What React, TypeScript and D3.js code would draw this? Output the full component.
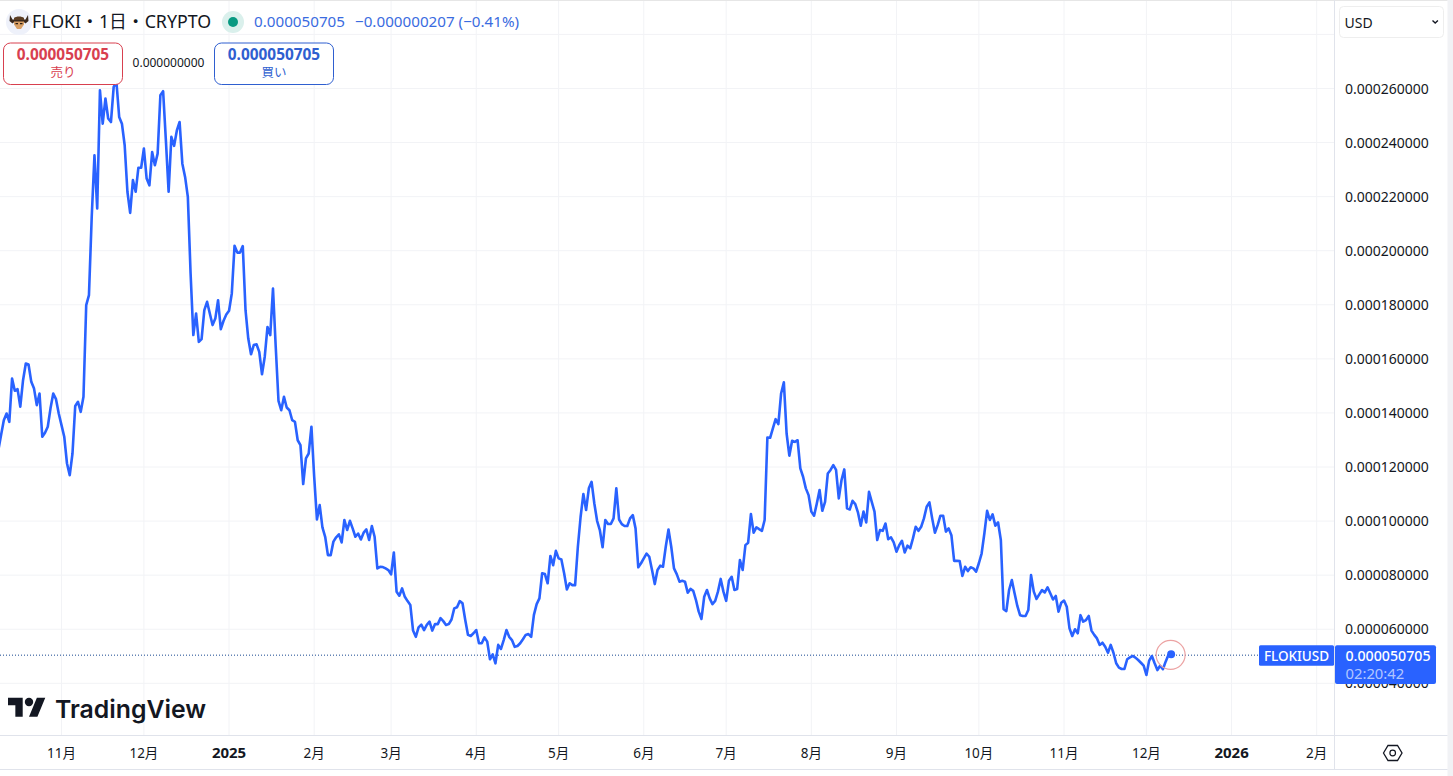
import React from "react";
import * as d3 from "d3";

// daily closes in millionths of a USD, one array per month
const oct2024 = [126.2, 131.8, 137.3, 139.8, 136.7, 152.7, 148.2, 148.8, 142.3, 152.1, 158.3, 157.9, 151.5, 149.0, 142.9, 147.2, 131.2, 132.7, 134.9, 141.7, 147.2, 145.1, 139.8];
const nov2024 = [135.5, 131.2, 121.3, 117.0, 125.0, 142.6, 144.1, 140.4, 146.0, 179.9, 183.6, 212.5, 235.3, 215.6, 259.3, 247.0, 256.3, 248.9, 247.6, 260.6, 262.4, 249.5, 247.0, 239.0, 221.8, 214.0, 226.1, 221.8, 230.7, 230.7];
const dec2024 = [237.8, 226.7, 224.2, 236.5, 231.6, 235.9, 257.5, 259.0, 240.9, 221.8, 242.1, 238.8, 244.5, 247.6, 232.2, 227.3, 219.9, 191.6, 168.8, 176.8, 166.3, 167.3, 178.0, 181.1, 176.8, 172.5, 174.9, 181.7, 171.0, 174.1, 176.4];
const jan2025 = [177.8, 184.2, 201.8, 199.3, 199.3, 201.7, 178.0, 167.5, 161.7, 165.1, 165.4, 162.6, 154.3, 160.8, 171.8, 168.8, 186.0, 164.4, 144.5, 141.0, 146.0, 142.0, 141.0, 137.3, 136.7, 129.9, 128.1, 113.7, 123.2, 125.0, 134.9];
const feb2025 = [116.4, 100.6, 105.9, 97.7, 94.2, 87.4, 87.4, 92.4, 94.0, 95.1, 92.1, 100.4, 96.7, 100.1, 97.3, 94.2, 95.4, 93.2, 95.7, 96.9, 93.0, 98.2, 94.2, 82.5, 83.1, 83.0, 82.5, 81.9];
const mar2025 = [80.3, 88.4, 73.9, 72.4, 75.1, 72.0, 70.4, 69.0, 59.5, 57.2, 60.7, 61.7, 59.7, 61.6, 62.8, 59.5, 61.9, 61.9, 64.1, 63.0, 61.6, 61.9, 63.6, 67.7, 68.1, 70.4, 69.6, 63.4, 57.9, 57.5, 58.5];
const apr2025 = [59.7, 54.8, 54.8, 57.0, 55.4, 48.9, 50.7, 47.4, 54.2, 52.7, 56.0, 59.7, 57.2, 56.0, 53.5, 53.8, 54.8, 56.3, 57.9, 58.2, 57.2, 65.3, 69.3, 71.4, 80.7, 80.4, 77.0, 87.1, 83.7, 89.0];
const may2025 = [86.2, 85.8, 80.7, 74.7, 77.0, 76.3, 76.3, 90.5, 101.6, 110.0, 104.1, 112.1, 114.5, 106.5, 100.1, 96.7, 90.3, 100.4, 98.9, 98.9, 101.0, 112.1, 100.6, 98.9, 98.2, 98.2, 101.0, 102.2, 97.3, 82.9, 84.4];
const jun2025 = [86.2, 88.0, 86.8, 81.9, 76.7, 81.9, 83.5, 83.1, 90.5, 96.9, 90.5, 82.5, 80.4, 77.6, 77.9, 77.6, 73.5, 74.9, 74.2, 70.8, 66.5, 63.8, 72.0, 74.5, 71.4, 69.3, 70.5, 73.9, 78.6, 73.9];
const jul2025 = [70.5, 77.9, 79.4, 74.5, 74.9, 85.6, 81.9, 91.1, 92.0, 102.6, 95.7, 97.7, 97.0, 96.4, 100.4, 130.9, 130.8, 134.3, 137.7, 135.9, 147.2, 151.3, 132.4, 124.2, 129.7, 129.3, 129.9, 119.5, 116.4, 112.1, 109.6];
const aug2025 = [103.5, 102.0, 106.5, 111.5, 103.8, 107.1, 117.6, 118.9, 120.7, 118.9, 108.4, 115.2, 119.1, 104.7, 104.3, 107.5, 106.3, 103.1, 98.3, 103.5, 99.5, 110.8, 107.1, 103.5, 93.0, 96.7, 96.4, 99.1, 93.3, 94.0, 92.1];
const sep2025 = [88.7, 91.1, 92.7, 88.4, 90.9, 89.9, 93.6, 97.9, 96.4, 97.9, 101.0, 105.3, 106.9, 101.0, 95.7, 98.5, 102.0, 102.0, 96.1, 97.3, 94.8, 85.3, 85.3, 85.2, 79.7, 83.1, 81.5, 82.9, 82.5, 81.3];
const oct2025 = [84.4, 88.0, 95.4, 103.8, 100.4, 102.5, 98.3, 99.5, 93.0, 67.4, 66.7, 74.5, 78.2, 73.3, 68.6, 65.2, 64.9, 64.9, 67.1, 80.0, 73.9, 71.2, 72.9, 74.5, 73.6, 75.5, 73.3, 71.0, 72.3, 66.5, 69.8];
const nov2025 = [70.6, 68.3, 60.3, 57.5, 60.0, 58.5, 65.2, 62.8, 63.4, 64.9, 59.5, 57.9, 56.6, 54.2, 55.0, 53.5, 51.3, 54.2, 51.3, 47.4, 45.8, 45.3, 45.3, 48.9, 49.6, 50.1, 49.5, 48.6, 47.6, 46.5];
const dec2025 = [43.1, 48.4, 50.1, 47.4, 44.9, 46.5, 45.2, 48.0, 50.5, 50.705];

const closes = [...oct2024, ...nov2024, ...dec2024, ...jan2025, ...feb2025, ...mar2025, ...apr2025, ...may2025, ...jun2025, ...jul2025, ...aug2025, ...sep2025, ...oct2025, ...nov2025, ...dec2025];
const firstDay = new Date(Date.UTC(2024, 9, 9));

const timeTicks: [Date, string, boolean][] = [
  [new Date(Date.UTC(2024, 10, 1)), "11月", false],
  [new Date(Date.UTC(2024, 11, 1)), "12月", false],
  [new Date(Date.UTC(2025, 0, 1)), "2025", true],
  [new Date(Date.UTC(2025, 1, 1)), "2月", false],
  [new Date(Date.UTC(2025, 2, 1)), "3月", false],
  [new Date(Date.UTC(2025, 3, 1)), "4月", false],
  [new Date(Date.UTC(2025, 4, 1)), "5月", false],
  [new Date(Date.UTC(2025, 5, 1)), "6月", false],
  [new Date(Date.UTC(2025, 6, 1)), "7月", false],
  [new Date(Date.UTC(2025, 7, 1)), "8月", false],
  [new Date(Date.UTC(2025, 8, 1)), "9月", false],
  [new Date(Date.UTC(2025, 9, 1)), "10月", false],
  [new Date(Date.UTC(2025, 10, 1)), "11月", false],
  [new Date(Date.UTC(2025, 11, 1)), "12月", false],
  [new Date(Date.UTC(2026, 0, 1)), "2026", true],
  [new Date(Date.UTC(2026, 1, 1)), "2月", false],
];
const priceTicks = [40, 60, 80, 100, 120, 140, 160, 180, 200, 220, 240, 260];
const gridPrices = [...priceTicks, 280];

const lastPrice = "0.000050705";
const changeText = "−0.000000207 (−0.41%)";
const spreadText = "0.000000000";
const countdown = "02:20:42";

const W = 1453;
const H = 776;
const axisX = 1334.5;
const axisY = 735.5;
const bottomY = 769.5;
const rightX = 1447.5;

const BLUE = "#2962ff";
const GRID = "#f2f3f6";
const INK = "#131722";
const FONT = '"Noto Sans", "Noto Sans CJK JP", sans-serif';

const x = d3
  .scaleUtc()
  .domain([new Date(Date.UTC(2024, 10, 1)), new Date(Date.UTC(2026, 1, 1))])
  .range([61.5, 1316.7]);
const y = d3.scaleLinear().domain([40, 260]).range([683.3, 88.5]);
const priceFormat = (v: number) => d3.format(".9f")(v * 1e-6);

const dayOf = (i: number) => d3.utcDay.offset(firstDay, i);
const linePath =
  d3
    .line<number>()
    .x((_, i) => x(dayOf(i)))
    .y((d) => y(d))(closes) ?? "";

const lastX = x(dayOf(closes.length - 1));
const lastY = y(closes[closes.length - 1]);

const Pill = ({ px, w, color, price, label }: { px: number; w: number; color: string; price: string; label: string }) => (
  <g>
    <rect x={px} y={43} width={w} height={41.5} rx={7} fill="#fff" stroke={color} strokeWidth={1} />
    <text x={px + w / 2} y={60} textAnchor="middle" fontSize={15.4} fontWeight={700} fill={color}>
      {price}
    </text>
    <text x={px + w / 2} y={77} textAnchor="middle" fontSize={12.5} fill={color}>
      {label}
    </text>
  </g>
);

export default function App() {
  return (
    <svg
      width={W}
      height={H}
      viewBox={`0 0 ${W} ${H}`}
      style={{ position: "absolute", left: 0, top: 0, display: "block", background: "#fff" }}
      fontFamily={FONT}
    >
      <defs>
        <clipPath id="plot">
          <rect x={0} y={0} width={axisX} height={axisY} />
        </clipPath>
      </defs>

      {/* grid */}
      {gridPrices.map((p) => (
        <line key={p} x1={0} x2={axisX} y1={y(p)} y2={y(p)} stroke={GRID} />
      ))}
      {timeTicks.map(([d]) => (
        <line key={+d} x1={x(d)} x2={x(d)} y1={0} y2={axisY} stroke={GRID} />
      ))}

      {/* watermark */}
      <g transform="translate(8,693.6) scale(1.05)" fill={INK}>
        <path d="M14 22H7V11H0V4h14v18zM28 22h-8l7.5-18h8L28 22z" />
        <circle cx={20} cy={8} r={4} />
      </g>
      <text x={55} y={718} fontFamily="Inter, sans-serif" fontWeight={600} fontSize={24.8} fill={INK}>
        TradingView
      </text>

      {/* last price dotted line */}
      <line x1={0} x2={1259} y1={lastY + 0.8} y2={lastY + 0.8} stroke="#17478f" strokeWidth={1} strokeDasharray="1 2" />

      {/* price line */}
      <g clipPath="url(#plot)">
        <path d={linePath} fill="none" stroke={BLUE} strokeWidth={2.6} strokeLinejoin="round" />
      </g>
      <circle cx={lastX - 0.5} cy={lastY + 0.5} r={14.5} fill="none" stroke="#eca3a3" strokeWidth={1.2} />
      <circle cx={lastX} cy={lastY} r={4} fill={BLUE} />

      {/* axes frame */}
      <rect x={axisX} y={0} width={rightX - axisX} height={bottomY} fill="#fff" />
      <rect x={0} y={axisY} width={rightX} height={bottomY - axisY} fill="#fff" />
      <rect x={rightX} y={0} width={W - rightX} height={H} fill="#f1f2f5" />
      <line x1={0} x2={rightX} y1={0.5} y2={0.5} stroke="#e6e6e6" />
      <line x1={0} x2={rightX} y1={axisY} y2={axisY} stroke="#e0e3eb" />
      <line x1={0} x2={rightX} y1={bottomY} y2={bottomY} stroke="#e0e3eb" />
      <line x1={axisX} x2={axisX} y1={0} y2={bottomY} stroke="#e0e3eb" />

      {/* price axis */}
      {priceTicks.map((p) => (
        <text key={p} x={1345} y={y(p)} dy="0.36em" fontSize={14} fill={INK}>
          {priceFormat(p)}
        </text>
      ))}

      {/* time axis */}
      {timeTicks.map(([d, label, bold]) => (
        <text key={+d} x={x(d)} y={757.5} textAnchor="middle" fontSize={bold ? 15 : 13.5} fontWeight={bold ? 700 : 400} fill={INK}>
          {label}
        </text>
      ))}

      {/* last price labels */}
      <rect x={1259} y={645.3} width={75} height={20.5} rx={1.5} fill={BLUE} />
      <text x={1296.5} y={660.5} textAnchor="middle" fontSize={13.5} fontWeight={500} fill="#fff">
        FLOKIUSD
      </text>
      <rect x={1335} y={645.3} width={101} height={38.7} rx={2} fill={BLUE} />
      <text x={1345.5} y={660.5} fontSize={14.2} fontWeight={500} fill="#fff">
        {lastPrice}
      </text>
      <text x={1345.5} y={678.5} fontSize={14.8} fill="#fff" fillOpacity={0.65}>
        {countdown}
      </text>

      {/* settings hexagon */}
      <path
        d={d3.line().curve(d3.curveLinearClosed)([
          [1383.5, 753],
          [1388, 745.5],
          [1397.5, 745.5],
          [1402, 753],
          [1397.5, 760.5],
          [1388, 760.5],
        ]) ?? ""}
        fill="none"
        stroke={INK}
        strokeWidth={1.3}
      />
      <circle cx={1392.7} cy={753} r={2.8} fill="none" stroke={INK} strokeWidth={1.2} />

      {/* currency select */}
      <rect x={1339.5} y={6.5} width={104} height={31} rx={4} fill="#fff" stroke="#eeeeee" />
      <text x={1344.5} y={27.5} fontSize={14} fill={INK}>
        USD
      </text>
      <path d="M1432.5 20.5l2.7 2.5 2.7-2.5" fill="none" stroke={INK} strokeWidth={1.4} />

      {/* legend row */}
      <g transform="translate(19,22)">
        <circle r={13} fill="#eef1fa" />
        <path d="M-9 -7l2.5 4.5h13l2.5 -4.5l0.5 6l-3 2.5l-1 -1h-11l-1 1l-3 -2.5z" fill="#3b2a1e" />
        <path d="M-5 -4c2 -2 8 -2 10 0v2h-10z" fill="#5a3d24" />
        <path d="M-5 -0.5h10v3l-3 4.5h-4l-3 -4.5z" fill="#d9a066" />
        <path d="M-3.5 1h2.5v1.2h-2.5zM1 1h2.5v1.2h-2.5z" fill="#2b1c12" />
      </g>
      <text x={32} y={28} fontSize={17.8} fill={INK}>
        FLOKI・1日・CRYPTO
      </text>
      <circle cx={233} cy={22} r={11} fill="#daf0ec" />
      <circle cx={233} cy={22} r={5} fill="#089981" />
      <text x={254} y={27} fontSize={15.2} fill="#3a6be0">
        {lastPrice}
      </text>
      <text x={355} y={27} fontSize={15.2} fill="#3a6be0">
        {changeText}
      </text>

      {/* buy / sell buttons */}
      <Pill px={3.5} w={119} color="#d8404f" price={lastPrice} label="売り" />
      <text x={168.5} y={67} textAnchor="middle" fontSize={12} fill={INK}>
        {spreadText}
      </text>
      <Pill px={214.5} w={119} color="#2f5fd0" price={lastPrice} label="買い" />
    </svg>
  );
}
